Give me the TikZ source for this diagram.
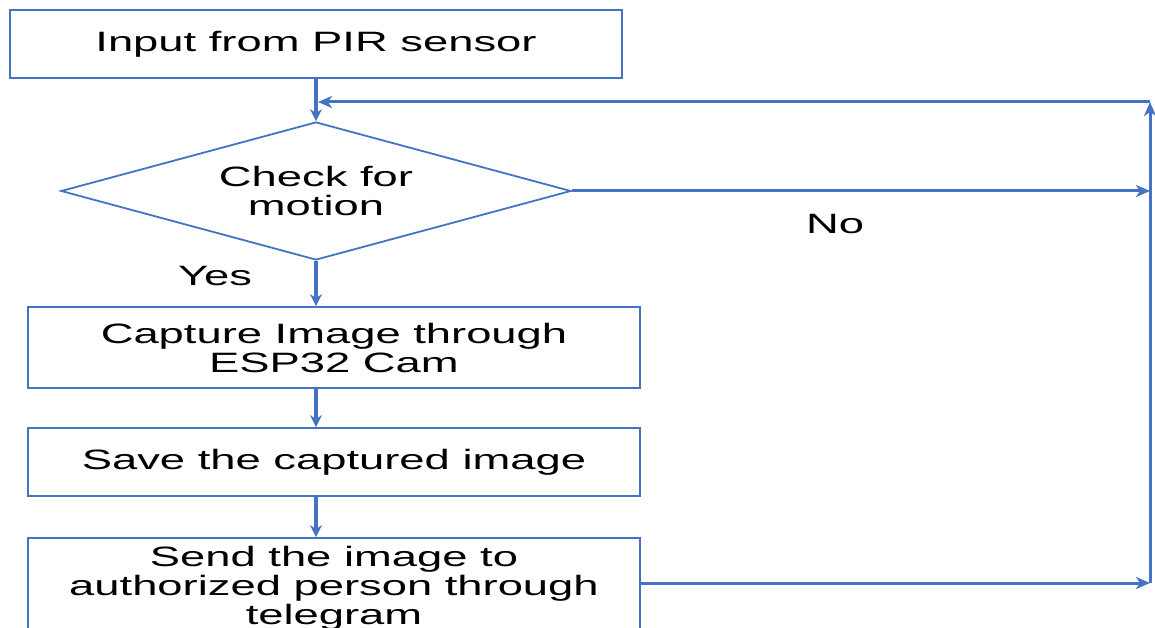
\documentclass[tikz,border=0pt]{standalone}
\usepackage{fontspec}
\setmainfont{Liberation Sans}[FakeStretch=1.62]
\usetikzlibrary{shapes.geometric,arrows.meta}
\definecolor{lineblue}{HTML}{4472C4}
\begin{document}
\begin{tikzpicture}[x=1pt,y=-1pt,
  box/.style={draw=lineblue,line width=1.8pt,minimum width=612pt,inner sep=0pt,align=center,font=\fontsize{28}{29}\selectfont},
  dia/.style={draw=lineblue,line width=1.8pt,diamond,aspect=3.7,minimum width=510pt,minimum height=138pt,inner sep=0pt,align=center,font=\fontsize{28}{29}\selectfont},
  flow/.style={draw=lineblue,line width=3.6pt,-{Stealth[length=12pt,width=12pt]}},
  loop/.style={draw=lineblue,line width=3pt,-{Stealth[length=14pt,width=12pt,inset=4pt]}},
  lbl/.style={font=\fontsize{28}{29}\selectfont,inner sep=0pt}]
\clip (0,0) rectangle (1155,628);
\node[box,minimum height=68pt] (b1) at (316,44) {Input from PIR sensor};
\node[dia] (d) at (316,191) {Check for\\motion};
\node[box,minimum height=81pt] (b2) at (334,347.5) {Capture Image through\\ESP32 Cam};
\node[box,minimum height=68pt] (b3) at (334,462) {Save the captured image};
\node[box,minimum height=100pt] (b4) at (334,588) {Send the image to\\authorized person through\\telegram};
\coordinate (rb) at (1150,583);
\coordinate (rt) at (1150,102);
\coordinate (lt) at (318,102);
\draw[flow] (d.north |- b1.south) -- (d.north);
\draw[flow] (d.south) -- (d.south |- b2.north);
\draw[flow] (d.south |- b2.south) -- (d.south |- b3.north);
\draw[flow] (d.south |- b3.south) -- (d.south |- b4.north);
\draw[loop] (b4.east |- rb) -- (rb);
\draw[loop] (rb) -- (rt);
\draw[loop] (rt) -- (lt);
\draw[loop] (d.east) -- (d.east -| rb);
\node[lbl] (yes) at (215,276) {Yes};
\node[lbl] (no) at (835,224) {No};
\end{tikzpicture}
\end{document}
